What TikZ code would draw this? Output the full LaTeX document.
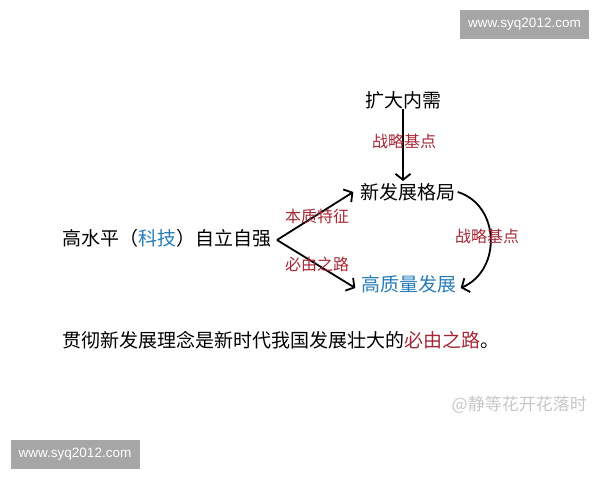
\documentclass[tikz,border=0pt]{standalone}
\usepackage{fontspec}
\setmainfont{Noto Sans CJK SC}
\newfontfamily\websitefont{Liberation Sans}
\usetikzlibrary{arrows.meta}
\definecolor{lblred}{RGB}{165,40,55}
\definecolor{hiblue}{RGB}{40,125,185}
\definecolor{boxgray}{RGB}{166,166,166}
\definecolor{wmgray}{RGB}{200,200,200}
\begin{document}
\begin{tikzpicture}[x=1pt,y=-1pt,
  main/.style={font=\fontsize{19}{19}\selectfont, inner sep=0pt},
  lbl/.style={font=\fontsize{16}{16}\selectfont, text=lblred, inner sep=0pt},
  arr/.style={line width=1.8pt, -{Straight Barb[length=6pt,width=15pt]}},
  webbox/.style={fill=boxgray, minimum width=129pt, minimum height=29pt, inner sep=0pt,
    text=white, font=\websitefont\fontsize{13.5}{13.5}\selectfont}]
\useasboundingbox[fill=white] (0,0) rectangle (600,480);

% main nodes
\node[main] (top) at (403,100) {扩大内需};
\node[main] (mid) at (408,192) {新发展格局};
\node[main, text=hiblue] (bot) at (409,284) {高质量发展};
\node[main, anchor=west] (left) at (62,238) {高水平（\textcolor{hiblue}{科技}）自立自强};
\coordinate (fork) at (277,240);

% connectors
\draw[arr, shorten >=2pt] (top.south) -- (top.south |- mid.north);
\draw[arr] (fork) -- ([xshift=-7pt]mid.west);
\draw[arr] (fork) -- ([xshift=-6pt,yshift=-4pt]bot.west);
\draw[arr] ([xshift=2pt]mid.east) .. controls (500,205) and (502,270) .. ([xshift=4pt,yshift=-4pt]bot.east);

% labels
\node[lbl] (l1) at (404,141) {战略基点};
\node[lbl] (l2) at (487,236) {战略基点};
\node[lbl] (l3) at (317,216) {本质特征};
\node[lbl] (l4) at (317,264) {必由之路};

% sentence
\node[main, anchor=west] (sent) at (62,340) {贯彻新发展理念是新时代我国发展壮大的\textcolor{lblred}{必由之路}。};

% watermark and website boxes
\node[font=\fontsize{17}{17}\selectfont, text=wmgray, inner sep=0pt, anchor=east] (wm) at (587,405) {@静等花开花落时};
\node[webbox] (w1) at (524.5,24.5) {www.syq2012.com};
\node[webbox] (w2) at (75,454.5) {www.syq2012.com};
\end{tikzpicture}
\end{document}
